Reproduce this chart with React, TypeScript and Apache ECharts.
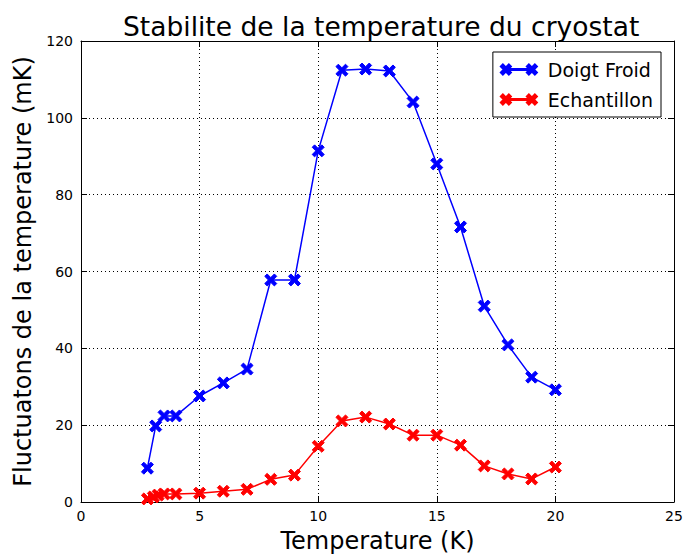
import React, { useEffect, useRef } from "react";
import * as echarts from "echarts";

const blueX = [2.8, 3.15, 3.5, 4, 5, 6, 7, 8, 9, 10, 11, 12, 13, 14, 15, 16, 17, 18, 19, 20];
const blueY = [8.8, 19.8, 22.4, 22.4, 27.6, 31.0, 34.6, 57.8, 57.8, 91.4, 112.4, 112.7, 112.2, 104.1, 88.0, 71.6, 51.0, 40.9, 32.5, 29.2];
const redX = [2.8, 3.05, 3.25, 3.5, 4, 5, 6, 7, 8, 9, 10, 11, 12, 13, 14, 15, 16, 17, 18, 19, 20];
const redY = [0.8, 1.3, 1.8, 2.1, 2.1, 2.3, 2.8, 3.3, 5.9, 7.0, 14.5, 21.1, 22.1, 20.3, 17.4, 17.4, 14.8, 9.4, 7.3, 6.0, 9.1];
const seriesNames = ["Doigt Froid", "Echantillon"];
const title = "Stabilite de la temperature du cryostat";
const xName = "Temperature (K)";
const yName = "Fluctuatons de la temperature (mK)";

const X_SYMBOL = "path://M0,2 L2,0 L5,3 L8,0 L10,2 L7,5 L10,8 L8,10 L5,7 L2,10 L0,8 L3,5 Z";
const LEGEND_ICON =
  "path://M0,2 L2,0 L5,3 L8,0 L10,2 L7,5 L10,8 L8,10 L5,7 L2,10 L0,8 L3,5 Z " +
  "M8,4.4 L28,4.4 L28,5.6 L8,5.6 Z " +
  "M26,2 L28,0 L31,3 L34,0 L36,2 L33,5 L36,8 L34,10 L31,7 L28,10 L26,8 L29,5 Z";

export default function App() {
  const ref = useRef<HTMLDivElement>(null);
  useEffect(() => {
    const chart = echarts.init(ref.current!, null, { renderer: "svg" });
    const font = "DejaVu Sans";
    const axisCommon = {
      axisLine: { show: true, onZero: false, lineStyle: { color: "#000", width: 1 } },
      axisTick: { show: true, inside: true, length: 6, lineStyle: { color: "#000" } },
    };
    const markerStyle = (c: string) => ({ color: c, borderColor: c, borderWidth: 1 });
    chart.setOption({
      animation: false,
      backgroundColor: "#fff",
      textStyle: { fontFamily: font },
      title: {
        text: title,
        left: 118,
        top: 8,
        textStyle: { fontFamily: font, fontSize: 26.5, fontWeight: "normal", color: "#000" },
      },
      grid: { left: 81, right: 12, top: 41, bottom: 52, containLabel: false, outerBoundsMode: "none" },
      legend: {
        data: seriesNames.map((n) => ({ name: n, icon: LEGEND_ICON })),
        right: 25,
        top: 52,
        orient: "vertical",
        backgroundColor: "#fff",
        borderColor: "#000",
        borderWidth: 1,
        borderRadius: 0,
        padding: [8, 8, 8, 7],
        itemGap: 11,
        itemWidth: 36,
        itemHeight: 10,
        textStyle: { fontFamily: font, fontSize: 19, color: "#000", padding: [0, 0, 0, 6] },
      },
      xAxis: [
        {
          type: "value",
          min: 0,
          max: 25,
          interval: 5,
          name: xName,
          nameLocation: "middle",
          nameGap: 27,
          nameTextStyle: { fontFamily: font, fontSize: 24, color: "#000" },
          ...axisCommon,
          axisLabel: { fontFamily: font, fontSize: 14, color: "#000", margin: 7, alignMaxLabel: "center", alignMinLabel: "center" },
          splitLine: { show: true, lineStyle: { color: "#000", type: [1, 3], width: 1 } },
        },
        {
          type: "value",
          position: "top",
          min: 0,
          max: 25,
          interval: 5,
          ...axisCommon,
          axisLabel: { show: false },
          splitLine: { show: false },
        },
      ],
      yAxis: [
        {
          type: "value",
          min: 0,
          max: 120,
          interval: 20,
          name: yName,
          nameLocation: "middle",
          nameGap: 46,
          nameTextStyle: { fontFamily: font, fontSize: 24, color: "#000" },
          ...axisCommon,
          axisLabel: { fontFamily: font, fontSize: 14, color: "#000", margin: 8 },
          splitLine: { show: true, lineStyle: { color: "#000", type: [1, 3], width: 1 } },
        },
        {
          type: "value",
          position: "right",
          min: 0,
          max: 120,
          interval: 20,
          ...axisCommon,
          axisLabel: { show: false },
          splitLine: { show: false },
        },
      ],
      series: [
        {
          name: seriesNames[0],
          type: "line",
          data: blueX.map((x, i) => [x, blueY[i]]),
          symbol: X_SYMBOL,
          symbolSize: 12,
          showAllSymbol: true,
          lineStyle: { color: "#0000ff", width: 1.5 },
          itemStyle: markerStyle("#0000ff"),
          z: 3,
        },
        {
          name: seriesNames[1],
          type: "line",
          data: redX.map((x, i) => [x, redY[i]]),
          symbol: X_SYMBOL,
          symbolSize: 12,
          showAllSymbol: true,
          lineStyle: { color: "#ff0000", width: 1.5 },
          itemStyle: markerStyle("#ff0000"),
          z: 3,
        },
      ],
    });
    return () => chart.dispose();
  }, []);
  return <div ref={ref} style={{ width: 686, height: 554, position: "absolute", left: 0, top: 0 }} />;
}
